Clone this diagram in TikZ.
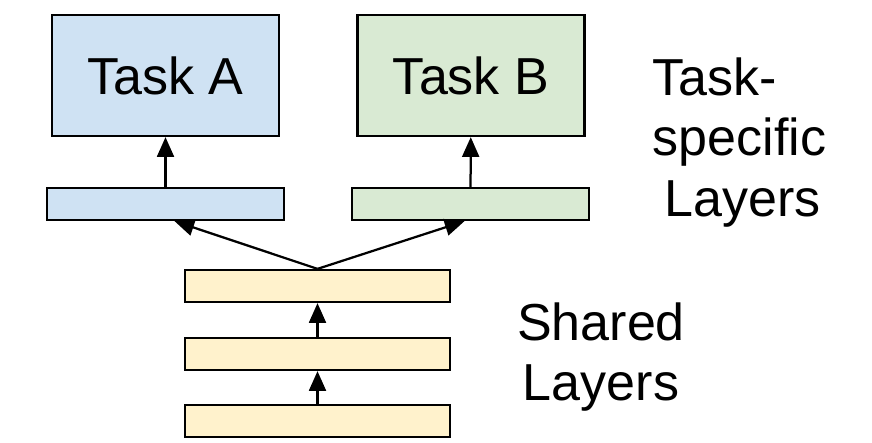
\documentclass[tikz,border=0pt]{standalone}
\usepackage{fontspec}
\setmainfont{Liberation Sans}
\usepackage{tikz}
\usetikzlibrary{arrows.meta, calc}

\definecolor{taskblue}{HTML}{CFE2F3}
\definecolor{taskgreen}{HTML}{D9EAD3}
\definecolor{sharedyellow}{HTML}{FFF2CC}

\begin{document}
\begin{tikzpicture}[x=0.025cm, y=-0.025cm, line width=1.6pt,
        >={Triangle[length=14pt, width=12pt]},
        taskbox/.style={draw, rectangle, minimum width=5.675cm, minimum height=3.025cm, font=\fontsize{37}{42}\selectfont},
        headbar/.style={draw, rectangle, minimum width=5.925cm, minimum height=0.8cm},
        sharedbar/.style={draw, rectangle, fill=sharedyellow, minimum width=6.625cm, minimum height=0.8cm},
        sidelabel/.style={align=left, font=\fontsize{37}{43}\selectfont}]
        \useasboundingbox (0,0) rectangle (872,442);

        % task specific part
        \node (taska) [taskbox, fill=taskblue] at (165.5,75.5) {Task A};
        \node (taskb) [taskbox, fill=taskgreen] at (471,75.5) {Task B};
        \node (heada) [headbar, fill=taskblue] at (165.5,204) {};
        \node (headb) [headbar, fill=taskgreen] at (470.5,204) {};

        % shared part
        \node (shared3) [sharedbar] at (317.5,286) {};
        \node (shared2) [sharedbar] at (317.5,354) {};
        \node (shared1) [sharedbar] at (317.5,421) {};

        \node (tasklabel) [sidelabel, anchor=north west] at (647,52) {Task-\\specific\\\hspace{0.3cm}Layers};
        \node (sharedlabel) [sidelabel, align=center] at (601,357) {Shared\\Layers};

        \draw [->] (shared1) -- (shared2);
        \draw [->] (shared2) -- (shared3);
        \draw [->] (shared3.north) -- ($(heada.south)+(9,0)$);
        \draw [->] (shared3.north) -- ($(headb.south)+(-6,0)$);
        \draw [->] (heada) -- (taska);
        \draw [->] (headb) -- (taskb);
    \end{tikzpicture}
\end{document}
